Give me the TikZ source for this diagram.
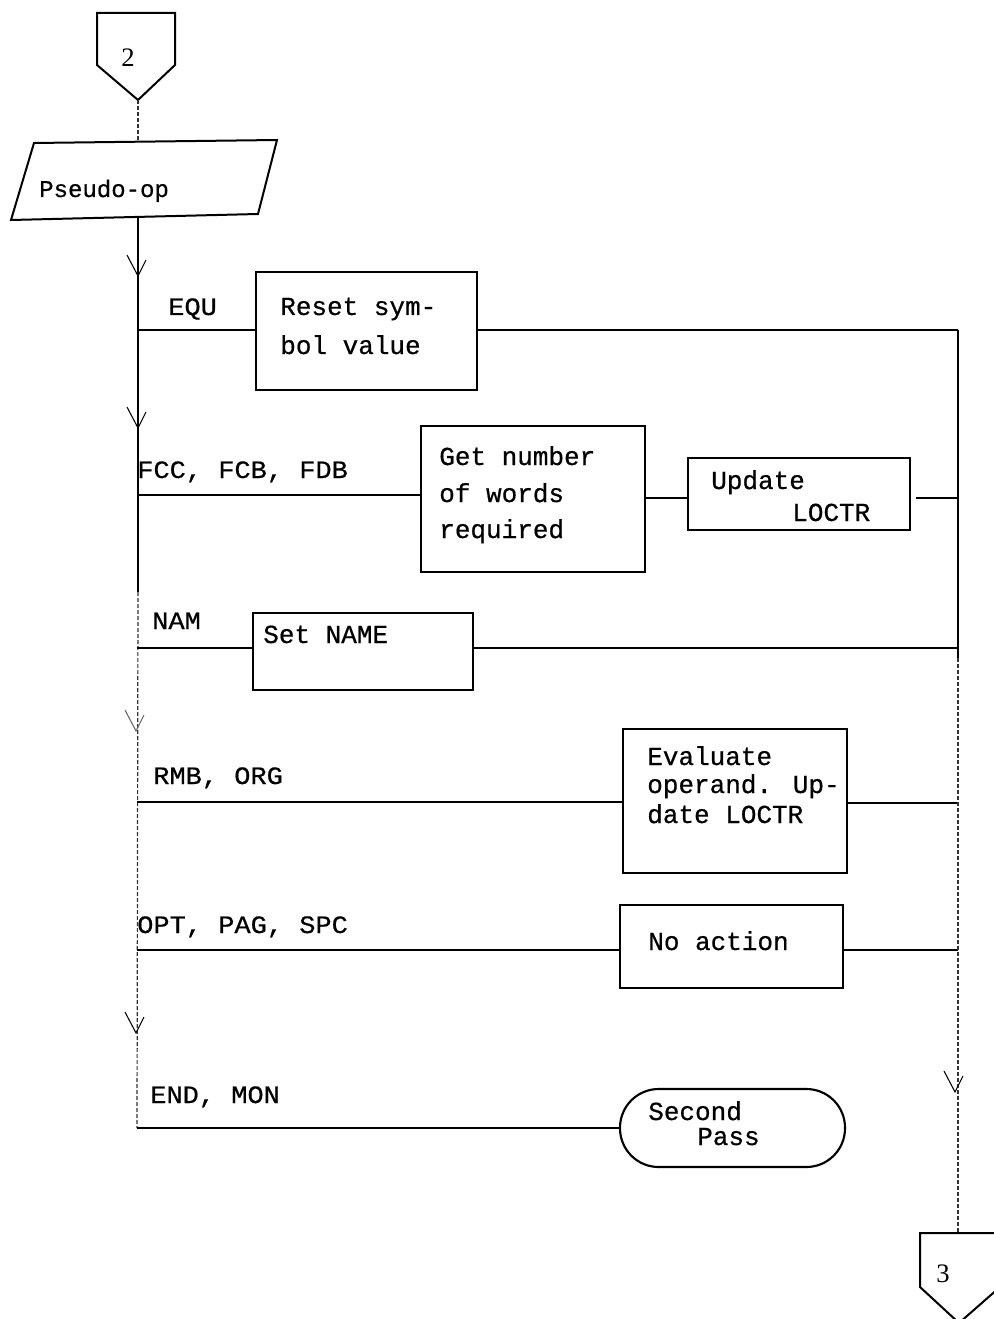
\documentclass[tikz,border=0pt]{standalone}
\usepackage{fontspec}
\setmainfont{Liberation Serif}
\newfontfamily\typew[FakeBold=0.6]{Liberation Mono}
\newfontfamily\typewide[FakeStretch=1.08,FakeBold=0.6]{Liberation Mono}
\usetikzlibrary{fit}

\tikzset{
  flowtip/.pic={\draw[line width=0.8pt] (-11,-21) -- (0,0) -- (8,-16);}
}

\begin{document}
\begin{tikzpicture}[x=0.75pt,y=-0.75pt,
  flow/.style={line width=1.3pt},
  weak/.style={line width=0.9pt, dash pattern=on 3pt off 1.5pt, black!80},
  frame/.style={draw, line width=1.6pt, inner sep=0pt},
  boxtext/.style={anchor=base west, inner sep=0pt, font=\typew\fontsize{19.5}{23}\selectfont},
  casetext/.style={anchor=base west, inner sep=0pt, font=\typewide\fontsize{18.75}{22}\selectfont},
  numtext/.style={anchor=base west, inner sep=0pt, font=\fontsize{20}{24}\selectfont}
]
\useasboundingbox (0,0) rectangle (994,1319);
\clip (0,0) rectangle (994,1319);

% ---- entry connector 2 and the pseudo-op input ----
\draw[line width=1.5pt, line join=miter] (97,13) -- (175,13) -- (175,65) -- (138,100) -- (97,65) -- cycle;
\coordinate (c2tip) at (138,100);
\node[numtext] (lbl2) at (121,67) {2};

\draw[line width=1.5pt] (34,143) -- (277,140) -- (258,214) -- (11,220) -- cycle;
\coordinate (io-in) at (138,142);
\coordinate (io-out) at (138,218);
\node[anchor=base west, inner sep=0pt, font=\typew\fontsize{18}{21}\selectfont] (t-pseudo) at (39,197) {Pseudo-op};

\draw[weak] (c2tip) -- (io-in);

% ---- branch points on the dispatch line ----
\coordinate (msplit) at (138,592);
\coordinate (b1) at (138,330);
\coordinate (b2) at (138,495);
\coordinate (b3) at (137,648);
\coordinate (b4) at (137,802);
\coordinate (b5) at (137,950);
\coordinate (b6) at (137,1128);

% ---- collecting line on the right ----
\coordinate (r1) at (958,330);
\coordinate (r2) at (958,498);
\coordinate (r3) at (958,648);
\coordinate (rsplit) at (958,658);
\coordinate (r4) at (958,803);
\coordinate (r5) at (958,950);
\coordinate (c3top) at (958,1233);

% ---- process boxes ----
\node[frame, fit={(256,272)(477,390)}] (reset) {};
\node[frame, fit={(421,426)(645,572)}] (getn) {};
\node[frame, fit={(688,458)(910,530)}] (upd) {};
\node[frame, fit={(253,613)(473,690)}] (setn) {};
\node[frame, fit={(623,729)(847,873)}] (eval) {};
\node[frame, fit={(620,905)(843,988)}] (noact) {};
\node[frame, rounded corners=29pt, fit={(620,1089)(845,1167)}] (term) {};

% ---- box texts ----
\node[boxtext] (reset1) at (280,315) {Reset sym-};
\node[boxtext] (reset2) at (280,354) {bol value};
\node[boxtext] (getn1) at (439,465) {Get number};
\node[boxtext] (getn2) at (439,502) {of words};
\node[boxtext] (getn3) at (439,538) {required};
\node[boxtext] (upd1) at (711,489) {Update};
\node[boxtext] (upd2) at (792,521) {LOCTR};
\node[boxtext] (setn1) at (263,643) {Set NAME};
\node[boxtext] (eval1) at (647,765) {Evaluate};
\node[boxtext] (eval2) at (647,793) {operand. Up-};
\node[boxtext] (eval3) at (647,823) {date LOCTR};
\node[boxtext] (noact1) at (648,950) {No action};
\node[boxtext] (term1) at (648,1120) {Second};
\node[boxtext] (term2) at (697,1145) {Pass};

% ---- case labels ----
\node[casetext] (t-equ) at (168,315) {EQU};
\node[casetext] (t-fcc) at (137,478) {FCC, FCB, FDB};
\node[casetext] (t-nam) at (152,629) {NAM};
\node[casetext] (t-rmb) at (153,784) {RMB, ORG};
\node[casetext] (t-opt) at (137,933) {OPT, PAG, SPC};
\node[casetext] (t-end) at (150,1103) {END, MON};

% ---- dispatch line ----
\draw[flow] (io-out) -- (msplit);
\draw[weak] (msplit) -- (b6);

\draw[flow] (b1) -- (b1 -| reset.west);
\draw[flow] (b2) -- (b2 -| getn.west);
\draw[flow] (getn.east |- r2) -- (upd.west |- r2);
\draw[flow] (b3) -- (b3 -| setn.west);
\draw[flow] (b4) -- (b4 -| eval.west);
\draw[flow] (b5) -- (b5 -| noact.west);
\draw[flow] (b6) -- (b6 -| term.west);

% ---- returns to the collecting line ----
\draw[flow] (reset.east |- r1) -- (r1);
\draw[line width=1pt] ([xshift=3.5pt]upd.east |- r2) -- (r2);
\draw[flow] (setn.east |- r3) -- (r3);
\draw[flow] (eval.east |- r4) -- (r4);
\draw[flow] (noact.east |- r5) -- (r5);
\draw[flow] (r1) -- (rsplit);
\draw[weak] (rsplit) -- (c3top);

% ---- flow direction marks ----
\pic at (138,276) {flowtip};
\pic at (138,428) {flowtip};
\pic[black!60] at (136,731) {flowtip};
\pic at (136,1033) {flowtip};
\pic at (955,1092) {flowtip};

% ---- exit connector 3 ----
\draw[line width=1.5pt, line join=miter] (c3top) -- (920,1233) -- (920,1287) -- (959,1323) -- (1000,1287) -- (1000,1233) -- (c3top);
\node[numtext] (lbl3) at (936,1282) {3};
\end{tikzpicture}
\end{document}
